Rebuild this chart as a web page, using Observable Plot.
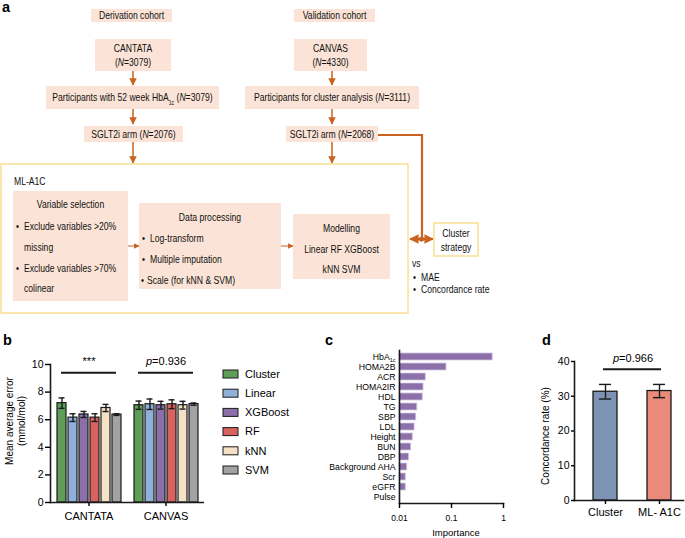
<!DOCTYPE html>
<html><head><meta charset="utf-8">
<script src="https://cdn.jsdelivr.net/npm/d3@7"></script>
<script src="https://cdn.jsdelivr.net/npm/@observablehq/plot@0.6"></script>
<style>
body{margin:0;background:#fff;}
#root{position:relative;width:685px;height:538px;overflow:hidden;font-family:"Liberation Sans",Arial,Helvetica,sans-serif;color:#000;background:#fff;}
.holder{position:absolute;}
.holder svg{overflow:visible;}
</style></head><body><div id="root"></div>
<script>
// ---------------- DATA ----------------
// panel a (flow chart texts)
const cohortTitles = ["Derivation cohort", "Validation cohort"];
const trialNames = ["CANTATA", "CANVAS"];
const trialN = ["3079", "4330"];
const selectionSteps = ["Participants with 52 week HbA_1c_ (*N*=3079)", "Participants for cluster analysis (*N*=3111)"];
const armSteps = ["SGLT2i arm (*N*=2076)", "SGLT2i arm (*N*=2068)"];
const mlTitle = "ML-A1C";
const variableSelection = ["Variable selection", "Exclude variables >20%", "missing", "Exclude variables >70%", "colinear"];
const dataProcessing = ["Data processing", "Log-transform", "Multiple imputation", "Scale (for kNN & SVM)"];
const modelling = ["Modelling", "Linear RF XGBoost", "kNN SVM"];
const clusterBox = ["Cluster", "strategy"];
const comparisons = ["vs", "MAE", "Concordance rate"];

// panel b
const groups = ["CANTATA", "CANVAS"];
const models = ["Cluster", "Linear", "XGBoost", "RF", "kNN", "SVM"];
const modelColors = ["#5e9e59", "#90afda", "#8a6fa8", "#d8635e", "#f5e1c6", "#a2a2a2"];
const cantataMAE = [7.2, 6.15, 6.38, 6.15, 6.85, 6.37];
const cantataSE = [0.38, 0.28, 0.22, 0.28, 0.26, 0.06];
const canvasMAE = [7.05, 7.12, 7.05, 7.12, 7.05, 7.13];
const canvasSE = [0.3, 0.38, 0.28, 0.32, 0.28, 0.08];
const maeTicks = [0, 2, 4, 6, 8, 10];
const maeSigLabels = ["***", "p=0.936"];
const maeSigLevel = 9.4;
const maeYLabel = ["Mean average error", "(mmol/mol)"];

// panel c
const features = ["HbA1c", "HOMA2B", "ACR", "HOMA2IR", "HDL", "TG", "SBP", "LDL", "Height", "BUN", "DBP", "Background AHA", "Scr", "eGFR", "Pulse"];
const importance = [0.62, 0.08, 0.032, 0.029, 0.028, 0.022, 0.021, 0.0195, 0.018, 0.0168, 0.0153, 0.0141, 0.0132, 0.0132, 0.0101];
const importanceTicks = [0.01, 0.1, 1];
const importanceLabel = "Importance";

// panel d
const strategies = ["Cluster", "ML- A1C"];
const strategyColors = ["#7d93b4", "#e98a7b"];
const concordance = [31.3, 31.5];
const concordanceSE = [2.1, 1.9];
const concordanceTicks = [0, 10, 20, 30, 40];
const concordanceSigLabel = "p=0.966";
const concordanceSigLevel = 37.8;
const concordanceYLabel = "Concordance rate (%)";

// ---------------- STYLE ----------------
const FONTFAM = '"Liberation Sans", Arial, Helvetica, sans-serif';
const PEACH = "#fbe4d7", ORANGE = "#c9631f", YELLOW = "#fbe199", INK = "#1a1a1a";
const root = d3.select("#root");

function rich(t, str, size) {
  const parts = str.split(/(\*[^*]+\*|_[^_]+_)/g).filter(s => s);
  let shifted = 0;
  parts.forEach(p => {
    const ts = t.append("tspan");
    if (p[0] === "*") { ts.attr("font-style", "italic").text(p.slice(1, -1)); }
    else if (p[0] === "_") { ts.attr("font-size", size * 0.6).attr("dy", size * 0.28).text(p.slice(1, -1)); shifted = size * 0.28; return; }
    else ts.text(p);
    if (shifted) { ts.attr("dy", -shifted); shifted = 0; }
  });
}

// ---------------- PANEL A (flow chart) ----------------
const A = root.append("svg").attr("width", 685).attr("height", 330)
  .style("position", "absolute").style("left", "0px").style("top", "0px")
  .attr("font-family", FONTFAM);
const defs = A.append("defs");
function marker(id, s) {
  defs.append("marker").attr("id", id).attr("viewBox", "0 0 10 10").attr("refX", 9).attr("refY", 5)
    .attr("markerUnits", "userSpaceOnUse").attr("markerWidth", s).attr("markerHeight", s)
    .attr("orient", "auto-start-reverse")
    .append("path").attr("d", "M0,0L10,5L0,10z").attr("fill", ORANGE);
}
marker("ah", 7.5); marker("ahs", 5.5); marker("ahb", 9.5);

function rect(x0, y0, x1, y1, fill = PEACH, stroke = "none", sw = 0) {
  A.append("rect").attr("x", x0).attr("y", y0).attr("width", x1 - x0).attr("height", y1 - y0)
    .attr("fill", fill).attr("stroke", stroke).attr("stroke-width", sw);
}
const TS = 11.2, SX = 0.77;
function txt(x, y, str, anchor = "middle", size = TS) {
  const t = A.append("text").attr("transform", `translate(${x},${y + size * 0.35}) scale(${SX},1)`)
    .attr("text-anchor", anchor).attr("font-size", size).attr("fill", "#111");
  rich(t, str, size);
}
function arrow(d, sw, m, end = true, start = false) {
  const p = A.append("path").attr("d", d).attr("fill", "none").attr("stroke", ORANGE).attr("stroke-width", sw);
  if (end) p.attr("marker-end", `url(#${m})`);
  if (start) p.attr("marker-start", `url(#${m})`);
}

// cohort columns
const colX = [133, 332];
rect(91, 9, 172, 22); rect(294, 9, 375, 22);
txt(131.5, 15.5, cohortTitles[0]); txt(334.5, 15.5, cohortTitles[1]);
rect(95, 39, 171, 71); rect(294, 39, 367, 71);
trialNames.forEach((n, i) => { const cx = i ? 330.5 : 133; txt(cx, 48, n); txt(cx, 62, `(*N*=${trialN[i]})`); });
rect(46, 86, 219, 109); rect(245, 86, 419, 109);
txt(132.5, 97.5, selectionSteps[0]); txt(332, 97.5, selectionSteps[1]);
rect(84, 126, 183, 142); rect(286, 126, 378, 142);
txt(133.5, 134, armSteps[0]); txt(332, 134, armSteps[1]);
colX.forEach(x => {
  arrow(`M${x},71V85`, 1.5, "ah");
  arrow(`M${x},109V124`, 1.5, "ah");
  arrow(`M${x},142V163`, 1.5, "ah");
});

// ML-A1C box
rect(1, 164, 408, 313, "none", YELLOW, 1.6);
txt(14, 181, mlTitle, "start");
rect(13, 191, 128, 301);
txt(70.5, 204, variableSelection[0]);
[[226, true], [247, false], [268, true], [288, false]].forEach(([y, b], i) => {
  if (b) txt(16, y, "•", "start");
  txt(24, y, variableSelection[i + 1], "start");
});
rect(139, 203, 281, 289);
txt(210, 217, dataProcessing[0]);
txt(142, 238, "•", "start"); txt(150, 238, dataProcessing[1], "start");
txt(142, 259, "•", "start"); txt(150, 259, dataProcessing[2], "start");
txt(141, 280, "•", "start"); txt(147, 280, dataProcessing[3], "start");
rect(293, 214, 390, 279);
txt(341.5, 228, modelling[0]); txt(341.5, 249, modelling[1]); txt(341.5, 269, modelling[2]);
arrow("M128,246H139", 1, "ahs");
arrow("M281,246H293", 1, "ahs");

// validation link to cluster strategy
A.append("path").attr("d", "M378,135H422V239").attr("fill", "none").attr("stroke", ORANGE).attr("stroke-width", 2.2);
arrow("M410,239H433", 2.2, "ahb", true, true);
A.append("circle").attr("cx", 421.5).attr("cy", 239).attr("r", 2.6).attr("fill", ORANGE);
rect(434, 223, 478, 256, "#fff", YELLOW, 1.6);
txt(456, 233, clusterBox[0]); txt(456, 247, clusterBox[1]);
txt(412, 263, comparisons[0], "start");
txt(413, 277, "•", "start"); txt(421, 277, comparisons[1], "start");
txt(413, 289, "•", "start"); txt(421, 289, comparisons[2], "start");

// ---------------- helpers for plots ----------------
const PSTYLE = {fontFamily: FONTFAM, fontSize: "10px", color: "#000", background: "transparent", overflow: "visible"};
function place(svg, left, top) {
  const h = root.append("div").attr("class", "holder").style("left", left + "px").style("top", top + "px");
  h.node().appendChild(svg);
  d3.select(svg).selectAll("text").each(function () {
    const s = this.textContent;
    const t = d3.select(this);
    if (/^p=/.test(s) && this.children.length === 0) {
      t.text(""); t.append("tspan").attr("font-style", "italic").text("p"); t.append("tspan").text(s.slice(1));
    } else if (s === "HbA1c" && this.children.length === 0) {
      t.text(""); t.append("tspan").text("HbA"); t.append("tspan").attr("font-size", 5.5).attr("dy", 2.2).text("1c");
    }
  });
}

// ---------------- PANEL B ----------------
const bRows = groups.flatMap((g, gi) => models.map((m, i) => ({
  group: g, model: m, v: gi ? canvasMAE[i] : cantataMAE[i], e: gi ? canvasSE[i] : cantataSE[i]
})));
const bSig = groups.map((g, i) => ({group: g, label: maeSigLabels[i], y: maeSigLevel, from: models[0], to: models[models.length - 1]}));
const plotB = Plot.plot({
  width: 240, height: 208, marginLeft: 50, marginRight: 36, marginTop: 34, marginBottom: 36,
  style: PSTYLE,
  fx: {domain: groups, paddingInner: 0, paddingOuter: 0},
  x: {domain: models, paddingInner: 0.22, paddingOuter: 0.45, axis: null},
  y: {domain: [0, 10]},
  color: {domain: models, range: modelColors},
  marks: [
    Plot.barY(bRows, {fx: "group", x: "model", y: "v", fill: "model", stroke: INK, strokeWidth: 1.2}),
    Plot.ruleX(bRows, {fx: "group", x: "model", y1: d => d.v - d.e, y2: d => d.v + d.e, stroke: INK, strokeWidth: 1.4}),
    Plot.tickY(bRows, {fx: "group", x: "model", y: d => d.v + d.e, insetLeft: 1.5, insetRight: 1.5, stroke: INK, strokeWidth: 1.4}),
    Plot.tickY(bRows, {fx: "group", x: "model", y: d => d.v - d.e, insetLeft: 1.5, insetRight: 1.5, stroke: INK, strokeWidth: 1.4}),
    Plot.ruleY(bSig, {fx: "group", y: "y", x1: "from", x2: "to", insetLeft: 4, insetRight: 5, stroke: INK, strokeWidth: 2}),
    Plot.text(bSig, {fx: "group", y: "y", text: "label", dy: -11, fontSize: 11}),
    Plot.ruleY([0], {stroke: INK, strokeWidth: 1.6}),
    Plot.frame({anchor: "left", facetAnchor: "left", stroke: INK, strokeWidth: 1.6}),
    Plot.axisY({ticks: maeTicks, tickSize: 5, tickPadding: 2, fontSize: 10.5, label: null, strokeWidth: 1.4}),
    Plot.axisFx({anchor: "bottom", tickSize: 4, tickPadding: 6, fontSize: 11, label: null, strokeWidth: 1.4})
  ]
});
place(plotB, 0, 330);

// ---------------- PANEL C ----------------
const cRows = features.map((f, i) => ({feature: f, imp: importance[i]}));
const plotC = Plot.plot({
  width: 280, height: 208, marginLeft: 169, marginRight: 7, marginTop: 20, marginBottom: 35,
  style: PSTYLE,
  x: {type: "log", domain: [importanceTicks[0], importanceTicks[importanceTicks.length - 1]]},
  y: {domain: features, paddingInner: 0.3, paddingOuter: 0.25},
  marks: [
    Plot.barX(cRows, {x1: importanceTicks[0], x2: "imp", y: "feature", fill: "#8b70a9", stroke: "#d3c5e3", strokeWidth: 0.8}),
    Plot.frame({anchor: "left", stroke: INK, strokeWidth: 1.6}),
    Plot.frame({anchor: "bottom", stroke: INK, strokeWidth: 1.6}),
    Plot.axisY({tickSize: 0, tickPadding: 4, fontSize: 8.7, label: null}),
    Plot.axisX({ticks: importanceTicks, tickFormat: d => `${d}`, tickSize: 5, tickPadding: 6, fontSize: 8.5, label: null, strokeWidth: 1.4})
  ]
});
place(plotC, 230, 330);

// ---------------- PANEL D ----------------
const dRows = strategies.map((s, i) => ({s, v: concordance[i], e: concordanceSE[i]}));
const dSig = [{y: concordanceSigLevel, from: strategies[0], to: strategies[strategies.length - 1], label: concordanceSigLabel}];
const plotD = Plot.plot({
  width: 225, height: 208, marginLeft: 114, marginRight: 2, marginTop: 31, marginBottom: 38,
  style: PSTYLE,
  x: {domain: strategies, paddingInner: 0.56, paddingOuter: 0.28, align: 0.62},
  y: {domain: [0, 40]},
  color: {domain: strategies, range: strategyColors},
  marks: [
    Plot.barY(dRows, {x: "s", y: "v", fill: "s", stroke: INK, strokeWidth: 1.3}),
    Plot.ruleX(dRows, {x: "s", y1: d => d.v - d.e, y2: d => d.v + d.e, stroke: INK, strokeWidth: 1.4}),
    Plot.tickY(dRows, {x: "s", y: d => d.v + d.e, insetLeft: 6, insetRight: 6, stroke: INK, strokeWidth: 1.4}),
    Plot.tickY(dRows, {x: "s", y: d => d.v - d.e, insetLeft: 6, insetRight: 6, stroke: INK, strokeWidth: 1.4}),
    Plot.ruleY(dSig, {y: "y", x1: "from", x2: "to", insetLeft: 10, insetRight: 10, stroke: INK, strokeWidth: 2}),
    Plot.text(dSig, {y: "y", text: "label", dy: -11, dx: 4, fontSize: 11}),
    Plot.frame({anchor: "left", stroke: INK, strokeWidth: 1.6}),
    Plot.frame({anchor: "bottom", stroke: INK, strokeWidth: 1.6}),
    Plot.axisY({ticks: concordanceTicks, tickSize: 3, tickPadding: 2, fontSize: 10.5, label: null, strokeWidth: 1.4}),
    Plot.axisX({tickSize: 4, tickPadding: 4, fontSize: 11, label: null, strokeWidth: 1.4})
  ]
});
place(plotD, 460, 330);

// ---------------- OVERLAY: panel letters, axis titles, legend ----------------
const O = root.append("svg").attr("width", 685).attr("height", 538)
  .style("position", "absolute").style("left", "0px").style("top", "0px").style("pointer-events", "none")
  .attr("font-family", FONTFAM);
[["a", 2, 12], ["b", 3, 345], ["c", 325, 345], ["d", 542, 345]].forEach(([l, x, y]) =>
  O.append("text").attr("x", x).attr("y", y).attr("font-size", 14.5).attr("font-weight", "bold").text(l));
function rotText(cx, cy, s, size) {
  O.append("text").attr("transform", `translate(${cx},${cy}) rotate(-90)`).attr("text-anchor", "middle")
    .attr("dy", "0.35em").attr("font-size", size).text(s);
}
rotText(9, 421, maeYLabel[0], 10);
rotText(21, 421, maeYLabel[1], 10);
rotText(545, 436, concordanceYLabel, 10);
O.append("text").attr("x", 456).attr("y", 533).attr("dy", "0.35em").attr("text-anchor", "middle").attr("font-size", 9.5).text(importanceLabel);
// legend for panel b
models.forEach((m, i) => {
  const cy = 374 + i * 19.2;
  O.append("rect").attr("x", 223).attr("y", cy - 4).attr("width", 15).attr("height", 8)
    .attr("fill", modelColors[i]).attr("stroke", INK).attr("stroke-width", 1);
  O.append("text").attr("x", 245).attr("y", cy).attr("dy", "0.35em").attr("font-size", 11).text(m);
});
</script></body></html>
